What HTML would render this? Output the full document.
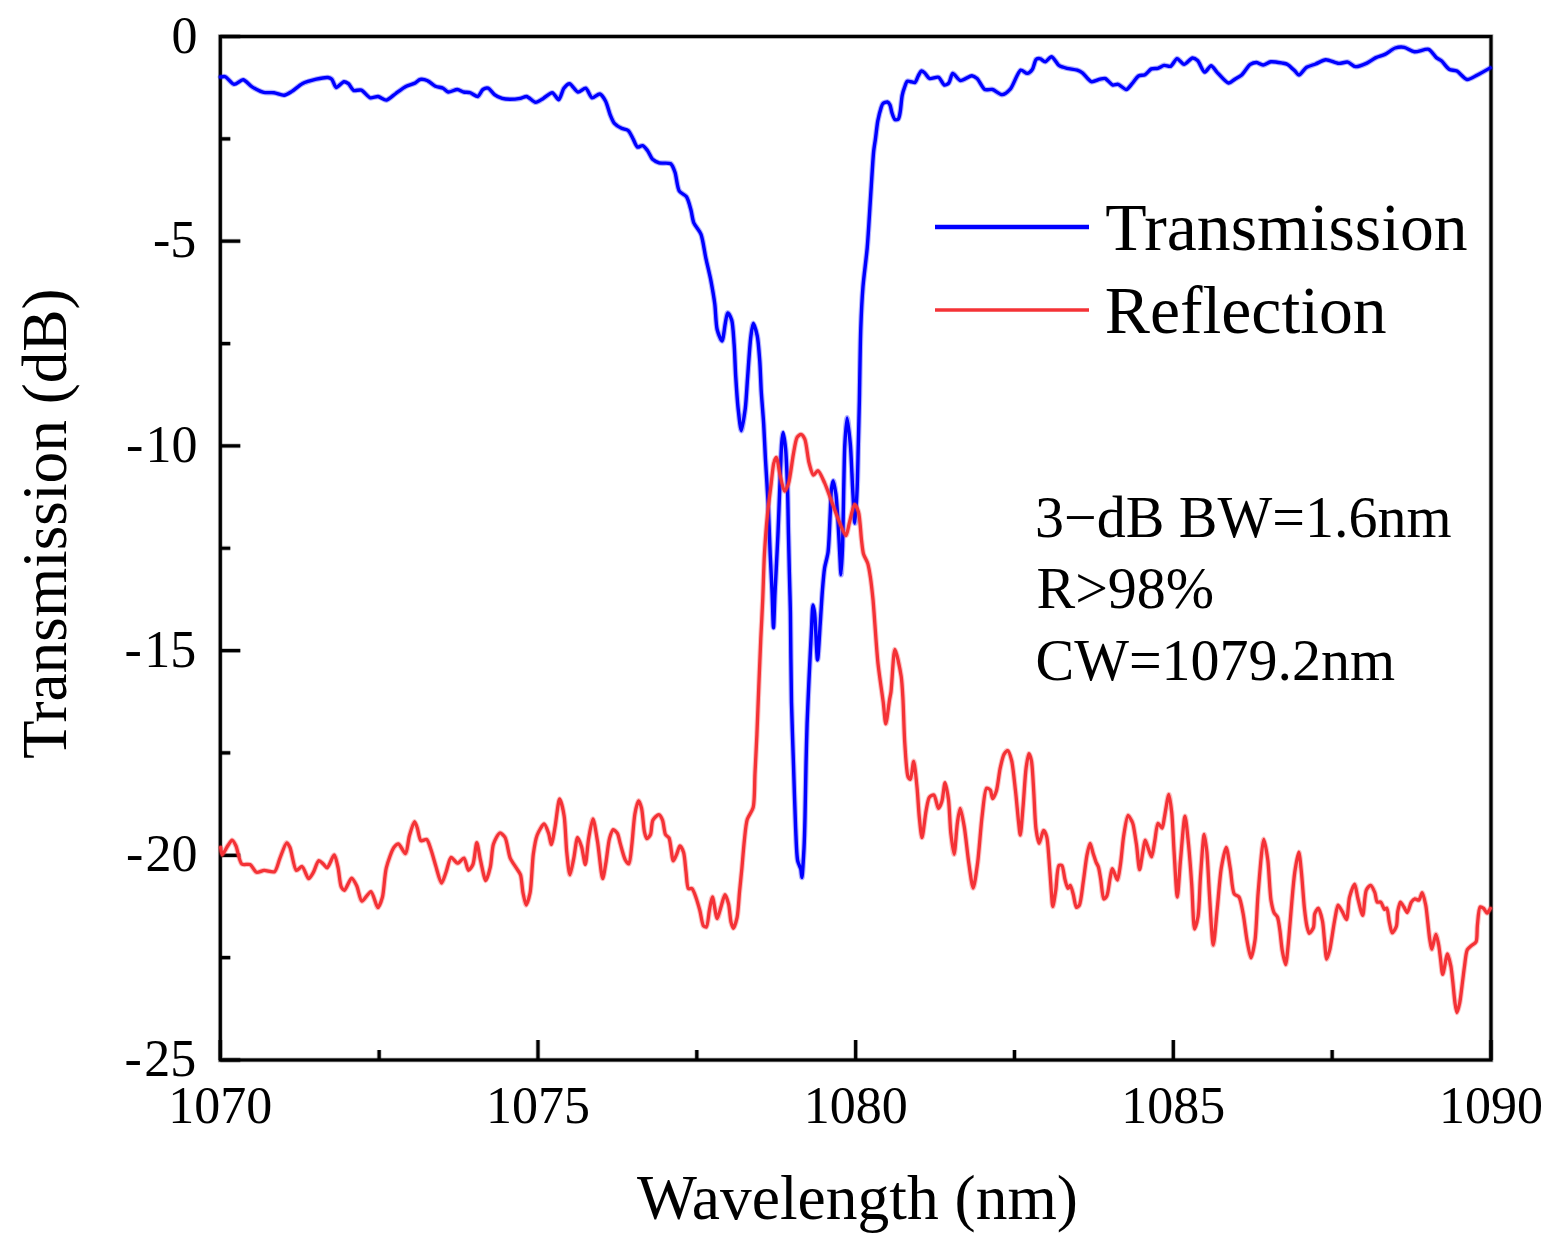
<!DOCTYPE html>
<html><head><meta charset="utf-8"><title>Transmission and Reflection Spectrum</title>
<style>
html,body{margin:0;padding:0;background:#fff;}
body{width:1557px;height:1248px;overflow:hidden;}
svg{display:block;}
text{font-family:'Liberation Serif','Times New Roman',serif;fill:#000;}
</style></head>
<body>
<svg width="1557" height="1248" viewBox="0 0 1557 1248">
<rect width="1557" height="1248" fill="#fff"/>
<g fill="none" stroke="#000" stroke-width="4.8" stroke-opacity="0.25" stroke-linecap="butt">
<rect x="220.30" y="36.50" width="1270.70" height="1023.50" stroke-linejoin="miter"/>
<path d="M220.30 1060.00V1040.00M379.14 1060.00V1050.00M537.98 1060.00V1040.00M696.81 1060.00V1050.00M855.65 1060.00V1040.00M1014.49 1060.00V1050.00M1173.33 1060.00V1040.00M1332.16 1060.00V1050.00M1491.00 1060.00V1040.00M220.30 36.50H240.30M220.30 138.85H230.30M220.30 241.20H240.30M220.30 343.55H230.30M220.30 445.90H240.30M220.30 548.25H230.30M220.30 650.60H240.30M220.30 752.95H230.30M220.30 855.30H240.30M220.30 957.65H230.30M220.30 1060.00H240.30"/>
</g>
<g fill="none" stroke="#000" stroke-width="3.2" stroke-linecap="butt">
<rect x="220.30" y="36.50" width="1270.70" height="1023.50" stroke-linejoin="miter"/>
<path d="M220.30 1060.00V1040.00M379.14 1060.00V1050.00M537.98 1060.00V1040.00M696.81 1060.00V1050.00M855.65 1060.00V1040.00M1014.49 1060.00V1050.00M1173.33 1060.00V1040.00M1332.16 1060.00V1050.00M1491.00 1060.00V1040.00M220.30 36.50H240.30M220.30 138.85H230.30M220.30 241.20H240.30M220.30 343.55H230.30M220.30 445.90H240.30M220.30 548.25H230.30M220.30 650.60H240.30M220.30 752.95H230.30M220.30 855.30H240.30M220.30 957.65H230.30M220.30 1060.00H240.30"/>
</g>
<g fill="none" stroke-linejoin="round" stroke-linecap="round">
<path d="M220.5 77.0C220.5 77.0 223.9 76.2 225.1 76.6C227.1 77.2 231.8 84.0 234.1 84.3C236.3 84.6 240.9 79.6 243.1 79.8C245.4 80.0 249.6 85.4 252.1 86.9C254.7 88.5 260.8 91.7 263.7 92.4C266.3 93.0 271.4 92.4 274.0 92.7C276.6 93.0 281.9 95.5 284.2 95.2C286.3 95.0 289.9 92.6 291.9 91.4C294.4 89.9 299.3 85.2 302.2 83.7C305.3 82.1 312.9 80.0 316.3 79.2C319.3 78.5 325.8 77.2 327.9 77.5C329.2 77.7 330.9 78.4 331.8 79.2C333.1 80.4 334.7 87.2 336.2 87.5C337.7 87.8 342.3 81.9 344.0 81.7C345.2 81.6 347.4 82.9 348.5 83.7C349.9 84.8 351.9 89.6 353.6 90.4C355.2 91.1 359.4 89.4 361.3 90.1C363.6 90.9 368.0 97.2 370.3 97.8C372.2 98.3 376.1 96.3 378.0 96.5C380.1 96.8 384.2 100.3 386.3 100.1C388.7 99.9 393.5 95.0 396.0 93.3C398.5 91.5 403.7 87.5 406.3 86.2C408.5 85.1 413.4 84.0 415.2 83.0C416.6 82.2 418.6 79.8 420.0 79.5C421.6 79.1 425.9 80.0 427.7 80.8C429.7 81.6 433.4 85.3 435.4 86.2C437.3 87.1 441.4 87.4 443.1 88.2C444.6 88.9 446.7 91.7 448.3 92.0C450.2 92.3 455.3 89.4 457.3 89.5C459.1 89.6 462.1 91.6 463.7 92.0C465.3 92.4 468.5 92.2 470.1 92.7C472.0 93.2 476.2 96.9 477.8 96.5C479.4 96.1 481.4 90.5 482.9 89.5C484.1 88.7 486.8 87.8 488.1 88.2C489.8 88.7 492.7 93.3 494.5 94.6C496.2 95.9 500.2 97.8 502.2 98.4C504.1 99.0 507.8 99.3 509.9 99.3C512.3 99.3 517.9 98.8 520.2 98.4C522.0 98.1 524.9 96.3 526.6 96.5C528.7 96.8 533.4 102.2 535.6 102.3C537.6 102.4 541.3 99.5 543.3 98.4C545.5 97.2 550.3 92.4 552.3 92.7C554.2 92.9 557.3 99.9 558.7 99.7C560.3 99.4 562.3 90.3 563.9 88.2C565.1 86.6 568.1 83.6 569.6 83.7C571.5 83.8 575.8 91.6 578.0 92.0C579.9 92.3 584.0 87.8 585.7 88.2C587.6 88.7 590.2 97.3 592.1 97.8C593.8 98.2 598.1 93.6 599.8 94.0C601.5 94.4 604.3 98.8 605.5 101.0C607.0 103.7 608.9 111.6 610.1 114.6C611.1 117.1 612.9 121.6 614.4 123.3C615.8 124.9 619.8 127.4 621.6 128.3C623.2 129.1 626.7 129.4 628.1 130.5C629.8 131.8 632.0 137.0 633.2 139.1C634.3 141.1 636.1 146.5 637.5 147.1C638.6 147.6 641.4 145.3 642.6 145.6C644.0 146.0 646.4 149.2 647.6 150.7C649.0 152.5 651.0 157.7 652.6 159.3C654.0 160.6 657.2 162.3 659.1 162.9C661.5 163.6 668.7 162.4 670.7 163.7C672.5 164.9 674.1 169.7 675.0 172.3C676.3 176.0 677.3 188.0 679.3 191.1C680.7 193.3 685.1 194.8 686.5 196.8C688.2 199.2 690.0 206.5 690.9 209.8C691.8 213.0 692.5 219.7 693.8 222.8C695.1 225.9 699.6 230.7 701.0 234.3C702.9 239.2 704.7 253.0 706.0 258.9C707.2 264.4 709.7 274.6 710.8 280.1C711.9 285.9 714.0 298.0 714.8 304.1C715.6 310.4 715.9 324.7 717.2 329.7C718.1 333.2 721.0 341.1 722.0 341.0C723.2 340.9 724.5 327.1 725.3 323.3C725.9 320.3 726.8 313.0 727.7 312.9C728.5 312.8 730.9 317.7 731.7 320.1C733.0 324.3 733.6 337.7 734.1 344.2C734.7 351.6 735.2 368.2 735.7 376.2C736.2 384.2 737.3 401.0 738.1 408.3C738.8 414.4 740.4 430.7 741.3 430.7C742.2 430.7 744.5 414.4 745.3 408.3C746.2 401.0 747.0 384.7 747.7 376.2C748.4 366.7 749.9 343.4 750.9 336.2C751.4 332.1 752.5 323.3 753.3 323.3C754.1 323.3 756.5 332.4 757.3 336.2C758.3 341.2 759.2 353.8 759.7 360.2C760.3 367.6 760.8 384.2 761.3 392.2C761.8 400.2 763.2 416.1 763.7 424.3C764.2 432.7 764.9 449.2 765.4 458.5C766.0 469.5 767.7 494.5 768.3 506.5C768.9 518.5 769.7 543.3 770.2 554.6C770.7 564.7 771.7 583.6 772.1 593.0C772.5 601.9 773.1 627.7 773.5 627.7C773.9 627.7 774.5 602.8 775.0 593.0C775.6 580.4 777.3 549.2 777.9 535.4C778.5 522.8 779.3 499.1 779.8 487.3C780.3 476.0 781.1 450.2 781.7 443.0C782.0 439.5 782.7 432.5 783.1 432.5C783.6 432.5 785.1 443.8 785.6 448.8C786.4 456.4 787.1 477.1 787.5 487.3C787.9 498.7 788.2 524.1 788.5 535.4C788.7 545.5 789.2 564.2 789.4 573.8C789.6 583.4 790.2 600.7 790.4 612.3C790.7 630.1 791.0 682.0 791.5 702.5C791.9 719.6 793.0 749.4 793.5 765.0C794.0 780.6 795.0 814.3 795.6 827.5C796.1 837.1 796.5 855.3 797.7 860.8C798.3 863.7 800.3 867.1 800.8 869.2C801.3 871.3 801.6 877.5 801.9 877.5C802.4 877.5 803.6 855.7 804.0 848.3C804.4 840.6 804.8 825.8 805.0 817.0C805.3 805.6 805.7 777.3 806.0 765.0C806.3 754.0 806.7 733.8 807.1 723.3C807.5 712.5 808.5 690.6 809.0 679.7C809.5 668.6 810.7 645.3 811.2 635.3C811.7 627.0 812.3 605.0 813.0 605.0C813.3 605.0 814.2 610.1 814.6 612.9C815.5 619.7 816.8 660.0 817.5 660.0C818.2 660.0 819.6 632.8 820.2 624.0C820.8 615.5 821.8 598.0 822.4 590.5C822.9 584.3 823.8 573.1 824.6 568.0C825.3 563.7 827.3 557.2 828.0 552.4C829.1 544.7 829.8 520.6 830.3 512.0C830.6 505.6 830.9 493.9 831.4 489.6C831.7 486.9 832.7 480.7 833.2 480.7C833.8 480.7 835.3 490.1 835.9 494.1C836.7 500.0 837.6 515.7 838.1 523.2C838.6 531.3 839.5 549.8 839.9 556.9C840.2 562.1 840.7 574.8 841.0 574.8C841.4 574.8 842.3 554.2 842.6 545.7C843.0 534.0 843.4 502.8 843.7 489.6C844.0 477.8 844.3 454.6 844.8 444.8C845.2 437.2 846.4 417.9 847.1 417.9C847.8 417.9 849.7 437.2 850.4 444.8C851.2 454.6 852.1 479.2 852.7 489.6C853.2 498.6 854.4 523.2 854.9 523.2C855.5 523.2 856.7 498.6 857.1 489.6C857.6 479.2 858.0 456.0 858.3 444.8C858.6 433.6 859.1 412.5 859.4 400.0C859.7 384.1 860.2 343.5 860.8 328.0C861.2 316.2 862.2 296.6 863.0 286.4C863.8 276.6 866.3 258.1 867.2 248.0C868.2 236.7 869.6 212.0 870.4 200.0C871.2 188.0 872.8 160.0 873.6 152.0C874.0 148.0 874.8 143.3 875.3 140.0C875.9 135.8 877.0 125.2 877.8 120.9C878.5 117.4 880.2 110.5 881.0 108.1C881.5 106.7 882.1 104.4 882.9 103.6C883.7 102.8 886.5 101.8 887.4 102.0C888.2 102.2 889.5 103.9 890.0 104.9C890.7 106.3 891.3 110.7 891.9 112.6C892.5 114.4 894.0 119.1 895.1 119.6C895.8 120.0 897.7 119.6 898.3 119.0C899.3 118.1 899.9 113.6 900.3 111.3C900.9 108.0 901.5 98.6 902.2 95.3C902.7 92.8 904.0 88.8 904.7 86.9C905.3 85.3 906.3 81.7 907.3 81.2C908.1 80.8 910.2 81.6 911.2 81.8C912.2 81.9 914.2 82.8 915.0 82.4C916.1 81.8 917.4 77.5 918.2 76.0C919.0 74.6 920.5 71.1 921.4 70.9C922.1 70.7 923.8 72.1 924.6 72.8C925.8 73.8 927.9 77.9 929.5 78.5C931.3 79.2 936.7 76.5 938.5 77.3C940.4 78.1 942.8 84.6 944.3 85.0C945.4 85.3 947.9 84.0 948.8 83.0C950.2 81.6 951.3 73.7 952.7 73.4C954.2 73.1 958.1 80.1 960.4 80.5C962.9 80.9 969.6 75.6 971.9 75.7C973.5 75.8 975.8 77.4 977.1 78.5C979.0 80.2 982.5 88.3 984.8 89.5C986.5 90.4 990.5 89.0 992.5 89.5C994.8 90.1 999.8 94.7 1002.1 94.6C1004.3 94.5 1008.5 91.0 1010.5 88.8C1013.3 85.7 1018.0 71.1 1020.7 70.2C1022.3 69.7 1025.7 73.5 1027.2 73.4C1028.6 73.3 1031.3 70.9 1032.3 69.5C1033.7 67.7 1034.8 60.4 1036.2 59.3C1037.0 58.6 1039.0 58.4 1040.0 58.6C1041.2 58.8 1043.9 61.9 1045.2 61.8C1046.7 61.7 1050.0 56.5 1051.6 56.7C1053.5 56.9 1057.2 64.3 1059.3 65.7C1061.1 66.9 1064.9 67.8 1067.0 68.3C1069.4 68.9 1075.2 69.5 1077.3 70.2C1078.8 70.7 1081.0 71.8 1082.4 72.8C1084.4 74.3 1089.0 81.1 1091.4 81.7C1093.4 82.2 1098.1 79.6 1100.0 79.2C1101.4 78.9 1103.8 78.1 1105.1 78.5C1106.9 79.0 1110.9 84.5 1112.8 85.0C1114.1 85.4 1116.6 84.0 1118.0 84.3C1119.9 84.7 1124.5 89.7 1126.3 89.5C1128.0 89.3 1130.7 85.3 1132.1 83.7C1133.7 81.9 1136.7 77.1 1138.5 76.0C1140.0 75.1 1143.5 75.5 1145.0 74.7C1146.7 73.8 1149.7 69.7 1151.4 68.9C1152.9 68.2 1156.2 68.7 1157.8 68.3C1159.4 67.9 1162.6 65.6 1164.2 65.4C1165.8 65.2 1169.1 66.9 1170.6 66.3C1172.4 65.6 1175.4 58.8 1177.1 58.6C1178.7 58.5 1182.3 64.4 1184.1 64.4C1186.1 64.4 1190.6 58.2 1192.5 58.0C1193.9 57.9 1196.4 59.5 1197.6 60.6C1199.5 62.3 1202.8 71.9 1204.7 72.1C1206.2 72.3 1209.6 65.7 1211.1 65.7C1212.6 65.7 1215.2 70.3 1216.9 72.1C1219.3 74.5 1225.9 82.7 1228.5 83.0C1230.3 83.2 1233.3 80.2 1234.9 79.2C1236.5 78.2 1239.7 76.7 1241.3 75.3C1243.5 73.4 1248.0 65.9 1250.3 64.4C1251.9 63.4 1255.1 62.4 1256.7 62.5C1258.3 62.6 1261.4 65.0 1263.1 65.0C1264.9 65.0 1268.6 62.1 1270.8 61.8C1273.4 61.4 1280.1 62.7 1282.4 63.1C1283.9 63.4 1286.2 63.7 1287.5 64.4C1289.3 65.4 1293.4 69.6 1295.0 71.1C1296.2 72.2 1297.8 75.0 1298.9 75.0C1300.5 75.0 1304.4 68.7 1306.6 67.3C1308.6 66.0 1313.3 64.9 1315.6 64.0C1318.1 63.0 1323.1 60.0 1325.8 59.8C1328.8 59.6 1335.7 63.2 1338.7 63.4C1341.1 63.6 1345.6 61.7 1347.7 62.1C1349.8 62.5 1353.2 66.3 1355.4 66.6C1357.9 66.9 1364.3 64.3 1366.9 63.1C1369.4 62.0 1373.6 58.7 1375.9 57.6C1378.1 56.6 1382.6 55.5 1384.9 54.4C1387.5 53.2 1392.6 48.8 1395.2 48.0C1397.4 47.3 1401.9 46.9 1404.2 47.3C1406.7 47.7 1411.7 51.5 1414.5 51.8C1417.7 52.2 1425.8 48.4 1428.6 49.3C1431.1 50.1 1434.5 56.1 1436.3 57.6C1437.6 58.7 1440.1 59.7 1441.4 60.8C1443.2 62.3 1447.0 67.9 1449.1 69.2C1450.9 70.3 1454.9 70.1 1456.9 71.1C1459.4 72.4 1464.4 79.1 1467.1 79.5C1469.6 79.8 1474.7 76.3 1477.4 75.0C1480.5 73.5 1490.2 67.9 1490.2 67.9" stroke="#0000ff" stroke-width="5.6" stroke-opacity="0.3"/>
<path d="M220.5 77.0C220.5 77.0 223.9 76.2 225.1 76.6C227.1 77.2 231.8 84.0 234.1 84.3C236.3 84.6 240.9 79.6 243.1 79.8C245.4 80.0 249.6 85.4 252.1 86.9C254.7 88.5 260.8 91.7 263.7 92.4C266.3 93.0 271.4 92.4 274.0 92.7C276.6 93.0 281.9 95.5 284.2 95.2C286.3 95.0 289.9 92.6 291.9 91.4C294.4 89.9 299.3 85.2 302.2 83.7C305.3 82.1 312.9 80.0 316.3 79.2C319.3 78.5 325.8 77.2 327.9 77.5C329.2 77.7 330.9 78.4 331.8 79.2C333.1 80.4 334.7 87.2 336.2 87.5C337.7 87.8 342.3 81.9 344.0 81.7C345.2 81.6 347.4 82.9 348.5 83.7C349.9 84.8 351.9 89.6 353.6 90.4C355.2 91.1 359.4 89.4 361.3 90.1C363.6 90.9 368.0 97.2 370.3 97.8C372.2 98.3 376.1 96.3 378.0 96.5C380.1 96.8 384.2 100.3 386.3 100.1C388.7 99.9 393.5 95.0 396.0 93.3C398.5 91.5 403.7 87.5 406.3 86.2C408.5 85.1 413.4 84.0 415.2 83.0C416.6 82.2 418.6 79.8 420.0 79.5C421.6 79.1 425.9 80.0 427.7 80.8C429.7 81.6 433.4 85.3 435.4 86.2C437.3 87.1 441.4 87.4 443.1 88.2C444.6 88.9 446.7 91.7 448.3 92.0C450.2 92.3 455.3 89.4 457.3 89.5C459.1 89.6 462.1 91.6 463.7 92.0C465.3 92.4 468.5 92.2 470.1 92.7C472.0 93.2 476.2 96.9 477.8 96.5C479.4 96.1 481.4 90.5 482.9 89.5C484.1 88.7 486.8 87.8 488.1 88.2C489.8 88.7 492.7 93.3 494.5 94.6C496.2 95.9 500.2 97.8 502.2 98.4C504.1 99.0 507.8 99.3 509.9 99.3C512.3 99.3 517.9 98.8 520.2 98.4C522.0 98.1 524.9 96.3 526.6 96.5C528.7 96.8 533.4 102.2 535.6 102.3C537.6 102.4 541.3 99.5 543.3 98.4C545.5 97.2 550.3 92.4 552.3 92.7C554.2 92.9 557.3 99.9 558.7 99.7C560.3 99.4 562.3 90.3 563.9 88.2C565.1 86.6 568.1 83.6 569.6 83.7C571.5 83.8 575.8 91.6 578.0 92.0C579.9 92.3 584.0 87.8 585.7 88.2C587.6 88.7 590.2 97.3 592.1 97.8C593.8 98.2 598.1 93.6 599.8 94.0C601.5 94.4 604.3 98.8 605.5 101.0C607.0 103.7 608.9 111.6 610.1 114.6C611.1 117.1 612.9 121.6 614.4 123.3C615.8 124.9 619.8 127.4 621.6 128.3C623.2 129.1 626.7 129.4 628.1 130.5C629.8 131.8 632.0 137.0 633.2 139.1C634.3 141.1 636.1 146.5 637.5 147.1C638.6 147.6 641.4 145.3 642.6 145.6C644.0 146.0 646.4 149.2 647.6 150.7C649.0 152.5 651.0 157.7 652.6 159.3C654.0 160.6 657.2 162.3 659.1 162.9C661.5 163.6 668.7 162.4 670.7 163.7C672.5 164.9 674.1 169.7 675.0 172.3C676.3 176.0 677.3 188.0 679.3 191.1C680.7 193.3 685.1 194.8 686.5 196.8C688.2 199.2 690.0 206.5 690.9 209.8C691.8 213.0 692.5 219.7 693.8 222.8C695.1 225.9 699.6 230.7 701.0 234.3C702.9 239.2 704.7 253.0 706.0 258.9C707.2 264.4 709.7 274.6 710.8 280.1C711.9 285.9 714.0 298.0 714.8 304.1C715.6 310.4 715.9 324.7 717.2 329.7C718.1 333.2 721.0 341.1 722.0 341.0C723.2 340.9 724.5 327.1 725.3 323.3C725.9 320.3 726.8 313.0 727.7 312.9C728.5 312.8 730.9 317.7 731.7 320.1C733.0 324.3 733.6 337.7 734.1 344.2C734.7 351.6 735.2 368.2 735.7 376.2C736.2 384.2 737.3 401.0 738.1 408.3C738.8 414.4 740.4 430.7 741.3 430.7C742.2 430.7 744.5 414.4 745.3 408.3C746.2 401.0 747.0 384.7 747.7 376.2C748.4 366.7 749.9 343.4 750.9 336.2C751.4 332.1 752.5 323.3 753.3 323.3C754.1 323.3 756.5 332.4 757.3 336.2C758.3 341.2 759.2 353.8 759.7 360.2C760.3 367.6 760.8 384.2 761.3 392.2C761.8 400.2 763.2 416.1 763.7 424.3C764.2 432.7 764.9 449.2 765.4 458.5C766.0 469.5 767.7 494.5 768.3 506.5C768.9 518.5 769.7 543.3 770.2 554.6C770.7 564.7 771.7 583.6 772.1 593.0C772.5 601.9 773.1 627.7 773.5 627.7C773.9 627.7 774.5 602.8 775.0 593.0C775.6 580.4 777.3 549.2 777.9 535.4C778.5 522.8 779.3 499.1 779.8 487.3C780.3 476.0 781.1 450.2 781.7 443.0C782.0 439.5 782.7 432.5 783.1 432.5C783.6 432.5 785.1 443.8 785.6 448.8C786.4 456.4 787.1 477.1 787.5 487.3C787.9 498.7 788.2 524.1 788.5 535.4C788.7 545.5 789.2 564.2 789.4 573.8C789.6 583.4 790.2 600.7 790.4 612.3C790.7 630.1 791.0 682.0 791.5 702.5C791.9 719.6 793.0 749.4 793.5 765.0C794.0 780.6 795.0 814.3 795.6 827.5C796.1 837.1 796.5 855.3 797.7 860.8C798.3 863.7 800.3 867.1 800.8 869.2C801.3 871.3 801.6 877.5 801.9 877.5C802.4 877.5 803.6 855.7 804.0 848.3C804.4 840.6 804.8 825.8 805.0 817.0C805.3 805.6 805.7 777.3 806.0 765.0C806.3 754.0 806.7 733.8 807.1 723.3C807.5 712.5 808.5 690.6 809.0 679.7C809.5 668.6 810.7 645.3 811.2 635.3C811.7 627.0 812.3 605.0 813.0 605.0C813.3 605.0 814.2 610.1 814.6 612.9C815.5 619.7 816.8 660.0 817.5 660.0C818.2 660.0 819.6 632.8 820.2 624.0C820.8 615.5 821.8 598.0 822.4 590.5C822.9 584.3 823.8 573.1 824.6 568.0C825.3 563.7 827.3 557.2 828.0 552.4C829.1 544.7 829.8 520.6 830.3 512.0C830.6 505.6 830.9 493.9 831.4 489.6C831.7 486.9 832.7 480.7 833.2 480.7C833.8 480.7 835.3 490.1 835.9 494.1C836.7 500.0 837.6 515.7 838.1 523.2C838.6 531.3 839.5 549.8 839.9 556.9C840.2 562.1 840.7 574.8 841.0 574.8C841.4 574.8 842.3 554.2 842.6 545.7C843.0 534.0 843.4 502.8 843.7 489.6C844.0 477.8 844.3 454.6 844.8 444.8C845.2 437.2 846.4 417.9 847.1 417.9C847.8 417.9 849.7 437.2 850.4 444.8C851.2 454.6 852.1 479.2 852.7 489.6C853.2 498.6 854.4 523.2 854.9 523.2C855.5 523.2 856.7 498.6 857.1 489.6C857.6 479.2 858.0 456.0 858.3 444.8C858.6 433.6 859.1 412.5 859.4 400.0C859.7 384.1 860.2 343.5 860.8 328.0C861.2 316.2 862.2 296.6 863.0 286.4C863.8 276.6 866.3 258.1 867.2 248.0C868.2 236.7 869.6 212.0 870.4 200.0C871.2 188.0 872.8 160.0 873.6 152.0C874.0 148.0 874.8 143.3 875.3 140.0C875.9 135.8 877.0 125.2 877.8 120.9C878.5 117.4 880.2 110.5 881.0 108.1C881.5 106.7 882.1 104.4 882.9 103.6C883.7 102.8 886.5 101.8 887.4 102.0C888.2 102.2 889.5 103.9 890.0 104.9C890.7 106.3 891.3 110.7 891.9 112.6C892.5 114.4 894.0 119.1 895.1 119.6C895.8 120.0 897.7 119.6 898.3 119.0C899.3 118.1 899.9 113.6 900.3 111.3C900.9 108.0 901.5 98.6 902.2 95.3C902.7 92.8 904.0 88.8 904.7 86.9C905.3 85.3 906.3 81.7 907.3 81.2C908.1 80.8 910.2 81.6 911.2 81.8C912.2 81.9 914.2 82.8 915.0 82.4C916.1 81.8 917.4 77.5 918.2 76.0C919.0 74.6 920.5 71.1 921.4 70.9C922.1 70.7 923.8 72.1 924.6 72.8C925.8 73.8 927.9 77.9 929.5 78.5C931.3 79.2 936.7 76.5 938.5 77.3C940.4 78.1 942.8 84.6 944.3 85.0C945.4 85.3 947.9 84.0 948.8 83.0C950.2 81.6 951.3 73.7 952.7 73.4C954.2 73.1 958.1 80.1 960.4 80.5C962.9 80.9 969.6 75.6 971.9 75.7C973.5 75.8 975.8 77.4 977.1 78.5C979.0 80.2 982.5 88.3 984.8 89.5C986.5 90.4 990.5 89.0 992.5 89.5C994.8 90.1 999.8 94.7 1002.1 94.6C1004.3 94.5 1008.5 91.0 1010.5 88.8C1013.3 85.7 1018.0 71.1 1020.7 70.2C1022.3 69.7 1025.7 73.5 1027.2 73.4C1028.6 73.3 1031.3 70.9 1032.3 69.5C1033.7 67.7 1034.8 60.4 1036.2 59.3C1037.0 58.6 1039.0 58.4 1040.0 58.6C1041.2 58.8 1043.9 61.9 1045.2 61.8C1046.7 61.7 1050.0 56.5 1051.6 56.7C1053.5 56.9 1057.2 64.3 1059.3 65.7C1061.1 66.9 1064.9 67.8 1067.0 68.3C1069.4 68.9 1075.2 69.5 1077.3 70.2C1078.8 70.7 1081.0 71.8 1082.4 72.8C1084.4 74.3 1089.0 81.1 1091.4 81.7C1093.4 82.2 1098.1 79.6 1100.0 79.2C1101.4 78.9 1103.8 78.1 1105.1 78.5C1106.9 79.0 1110.9 84.5 1112.8 85.0C1114.1 85.4 1116.6 84.0 1118.0 84.3C1119.9 84.7 1124.5 89.7 1126.3 89.5C1128.0 89.3 1130.7 85.3 1132.1 83.7C1133.7 81.9 1136.7 77.1 1138.5 76.0C1140.0 75.1 1143.5 75.5 1145.0 74.7C1146.7 73.8 1149.7 69.7 1151.4 68.9C1152.9 68.2 1156.2 68.7 1157.8 68.3C1159.4 67.9 1162.6 65.6 1164.2 65.4C1165.8 65.2 1169.1 66.9 1170.6 66.3C1172.4 65.6 1175.4 58.8 1177.1 58.6C1178.7 58.5 1182.3 64.4 1184.1 64.4C1186.1 64.4 1190.6 58.2 1192.5 58.0C1193.9 57.9 1196.4 59.5 1197.6 60.6C1199.5 62.3 1202.8 71.9 1204.7 72.1C1206.2 72.3 1209.6 65.7 1211.1 65.7C1212.6 65.7 1215.2 70.3 1216.9 72.1C1219.3 74.5 1225.9 82.7 1228.5 83.0C1230.3 83.2 1233.3 80.2 1234.9 79.2C1236.5 78.2 1239.7 76.7 1241.3 75.3C1243.5 73.4 1248.0 65.9 1250.3 64.4C1251.9 63.4 1255.1 62.4 1256.7 62.5C1258.3 62.6 1261.4 65.0 1263.1 65.0C1264.9 65.0 1268.6 62.1 1270.8 61.8C1273.4 61.4 1280.1 62.7 1282.4 63.1C1283.9 63.4 1286.2 63.7 1287.5 64.4C1289.3 65.4 1293.4 69.6 1295.0 71.1C1296.2 72.2 1297.8 75.0 1298.9 75.0C1300.5 75.0 1304.4 68.7 1306.6 67.3C1308.6 66.0 1313.3 64.9 1315.6 64.0C1318.1 63.0 1323.1 60.0 1325.8 59.8C1328.8 59.6 1335.7 63.2 1338.7 63.4C1341.1 63.6 1345.6 61.7 1347.7 62.1C1349.8 62.5 1353.2 66.3 1355.4 66.6C1357.9 66.9 1364.3 64.3 1366.9 63.1C1369.4 62.0 1373.6 58.7 1375.9 57.6C1378.1 56.6 1382.6 55.5 1384.9 54.4C1387.5 53.2 1392.6 48.8 1395.2 48.0C1397.4 47.3 1401.9 46.9 1404.2 47.3C1406.7 47.7 1411.7 51.5 1414.5 51.8C1417.7 52.2 1425.8 48.4 1428.6 49.3C1431.1 50.1 1434.5 56.1 1436.3 57.6C1437.6 58.7 1440.1 59.7 1441.4 60.8C1443.2 62.3 1447.0 67.9 1449.1 69.2C1450.9 70.3 1454.9 70.1 1456.9 71.1C1459.4 72.4 1464.4 79.1 1467.1 79.5C1469.6 79.8 1474.7 76.3 1477.4 75.0C1480.5 73.5 1490.2 67.9 1490.2 67.9" stroke="#0000ff" stroke-width="3.4"/>
<path d="M220.6 847.5C220.6 847.5 221.5 854.9 222.2 855.0C223.1 855.1 226.3 848.0 227.6 846.0C228.7 844.4 231.0 840.2 232.1 840.2C233.1 840.2 235.1 844.1 236.0 846.0C237.5 849.2 239.3 862.1 241.8 864.0C243.4 865.3 248.3 863.7 250.1 864.6C252.1 865.6 254.6 871.7 256.5 872.3C258.2 872.9 262.1 870.5 264.2 870.4C266.6 870.3 272.6 872.8 274.5 871.7C276.7 870.4 278.3 862.2 279.7 858.8C281.3 855.0 285.2 843.0 286.7 842.8C287.6 842.7 289.1 845.6 289.9 847.3C291.6 850.8 294.1 869.6 296.4 870.4C297.6 870.8 300.8 866.2 302.1 866.5C304.0 867.0 307.0 878.6 308.6 878.7C309.7 878.8 312.0 874.7 313.1 872.9C314.6 870.5 317.2 861.1 318.8 860.7C319.8 860.4 322.2 863.1 323.3 864.0C324.3 864.9 326.2 868.0 327.2 867.8C328.9 867.6 332.8 854.9 334.2 855.0C335.5 855.1 337.3 864.2 338.1 867.8C339.1 872.1 339.9 884.4 341.3 887.1C342.0 888.4 343.6 890.4 344.5 890.3C346.0 890.1 349.9 878.1 351.6 878.1C352.9 878.1 355.6 883.5 356.7 885.8C358.2 888.9 360.0 900.8 361.9 901.2C363.6 901.6 369.0 891.3 370.9 891.6C373.1 892.0 376.3 907.6 377.9 907.6C379.1 907.6 381.5 900.6 382.4 897.3C383.9 891.9 384.6 874.4 386.3 867.8C387.7 862.1 391.9 850.1 394.0 847.3C395.1 845.9 397.3 843.8 398.5 844.0C400.2 844.3 404.2 854.0 405.5 853.7C407.1 853.4 408.2 839.9 409.4 835.7C410.5 831.9 413.4 821.6 414.5 821.6C415.2 821.6 416.5 825.5 417.1 827.3C418.1 829.9 419.2 839.7 420.9 840.7C422.0 841.4 425.5 838.9 426.7 839.5C428.4 840.4 430.1 847.4 431.2 850.4C432.4 853.9 434.5 861.9 435.7 865.8C437.0 870.0 440.1 883.1 441.5 883.1C442.6 883.1 444.9 875.2 446.0 872.2C447.3 868.8 449.3 857.9 451.1 857.4C452.4 857.1 455.9 863.1 457.5 863.2C459.1 863.3 462.7 857.7 464.0 858.1C465.6 858.6 467.1 870.1 468.4 870.3C469.4 870.5 472.0 866.6 472.9 864.5C474.5 860.9 475.8 842.7 476.8 842.7C477.7 842.7 479.5 856.1 480.6 860.7C481.7 865.6 484.5 880.6 485.8 880.6C486.9 880.6 489.4 871.0 490.3 867.1C491.5 862.1 491.9 848.6 493.5 844.0C494.7 840.6 498.2 833.3 499.9 833.0C501.1 832.8 504.0 835.7 505.1 837.5C507.0 840.6 508.4 853.9 510.2 858.1C511.5 861.2 515.2 866.1 516.6 868.4C517.7 870.2 519.7 872.7 520.5 874.8C521.7 878.1 522.2 888.8 523.0 892.8C523.7 896.2 525.3 905.0 526.2 905.0C527.1 905.0 529.3 896.8 530.1 892.8C531.5 885.9 532.2 862.2 533.3 854.2C534.1 848.5 535.6 839.0 537.2 835.0C538.5 831.7 542.7 823.9 544.2 824.0C545.5 824.1 547.8 831.2 548.7 833.7C549.6 836.3 550.6 844.6 551.3 844.6C552.2 844.6 554.3 831.1 555.2 826.0C556.3 819.9 558.3 799.1 559.6 799.0C560.6 798.9 563.3 810.7 564.1 815.7C565.3 822.9 565.9 843.7 566.7 851.7C567.4 858.1 568.9 874.8 569.9 874.8C570.7 874.8 572.9 862.5 573.8 858.1C574.8 853.2 576.4 837.6 577.6 837.5C578.4 837.4 580.6 843.8 581.5 846.5C582.7 850.2 584.5 864.5 585.3 864.5C586.3 864.5 587.6 844.8 588.6 838.8C589.5 833.5 591.9 818.9 593.0 818.9C594.1 818.9 596.4 835.1 597.5 841.4C598.9 849.5 601.4 878.6 602.7 878.6C603.5 878.6 605.2 866.6 606.0 862.1C606.9 856.7 608.3 842.5 609.6 838.1C610.4 835.4 612.0 830.0 613.2 829.7C614.1 829.5 616.6 832.0 617.4 833.3C618.6 835.2 619.5 841.2 620.4 844.1C621.4 847.6 623.8 857.1 625.2 859.7C626.0 861.2 628.2 864.1 628.9 863.9C630.3 863.5 631.2 849.6 631.9 844.1C632.7 837.4 633.8 820.0 634.9 814.0C635.6 810.0 637.5 800.9 638.5 800.8C639.2 800.8 640.9 805.6 641.5 808.0C642.6 812.2 643.5 828.0 644.5 832.1C645.0 834.3 646.1 838.6 646.9 838.7C647.6 838.8 649.8 836.0 650.5 834.5C651.6 832.1 651.5 822.7 652.9 820.1C654.0 818.2 657.7 814.4 658.9 814.6C660.0 814.7 661.8 818.3 662.5 820.1C663.6 822.8 664.3 832.2 665.5 834.5C666.2 835.9 668.3 836.6 669.1 838.1C670.7 841.2 671.9 860.7 673.3 860.9C674.1 861.0 676.1 855.6 676.9 853.7C677.7 851.8 679.0 846.0 679.9 845.9C680.7 845.8 682.9 850.3 683.6 852.5C684.7 856.0 685.4 867.1 686.0 871.8C686.6 876.1 686.9 887.3 688.4 888.6C689.1 889.2 691.2 888.1 692.0 888.6C693.4 889.5 695.3 895.6 696.2 898.2C697.2 901.0 698.9 907.0 699.8 910.2C700.8 913.8 702.0 924.1 703.4 925.8C704.0 926.6 705.8 927.3 706.4 927.0C707.8 926.2 708.6 914.1 709.4 910.2C710.1 906.7 711.6 897.0 712.4 897.0C713.5 897.0 715.9 918.5 717.2 918.6C718.2 918.6 720.4 908.5 721.4 905.4C722.3 902.6 724.1 894.6 725.0 894.6C725.9 894.6 727.9 901.4 728.6 904.2C729.5 908.0 730.2 918.9 731.0 922.2C731.5 924.2 732.8 928.3 733.4 928.3C734.3 928.3 736.4 920.7 737.1 917.4C738.2 912.4 738.9 898.4 739.5 892.2C740.1 886.1 741.3 874.4 741.9 868.1C742.5 861.3 743.7 846.5 744.4 840.0C745.0 834.4 745.9 823.5 747.3 819.2C748.4 815.8 752.1 811.5 753.1 807.7C754.8 801.5 754.5 782.0 755.0 773.1C755.5 763.7 756.4 744.8 756.9 734.6C757.4 723.2 758.3 698.5 758.8 686.5C759.3 674.5 760.3 649.8 760.8 638.5C761.3 628.3 762.3 610.0 762.7 600.0C763.2 589.1 763.8 565.5 764.4 554.6C765.0 544.6 766.4 525.4 767.3 516.2C768.1 507.7 770.3 490.8 771.2 483.5C771.9 477.6 772.9 465.7 774.0 462.3C774.5 460.6 775.9 457.4 776.5 457.5C777.5 457.6 778.8 469.7 779.8 473.8C780.8 478.1 783.3 491.1 784.6 491.2C785.5 491.3 787.6 486.1 788.5 483.5C790.1 478.7 792.1 460.9 793.3 454.6C794.2 449.7 795.6 439.7 797.1 437.3C797.9 436.0 800.1 434.3 801.0 434.4C802.0 434.5 804.0 437.4 804.8 439.2C806.4 442.7 807.7 457.8 809.0 462.7C810.0 466.3 812.0 474.8 813.4 475.1C814.4 475.3 816.8 470.4 817.9 470.6C819.6 470.8 823.0 479.5 824.6 482.9C826.4 486.9 829.7 496.3 831.4 500.8C833.1 505.3 836.3 514.4 838.1 518.8C839.9 523.1 844.5 535.7 845.9 535.6C847.1 535.5 848.4 526.6 849.3 523.2C850.5 519.0 853.1 504.7 854.5 504.5C855.4 504.4 857.7 509.4 858.5 512.0C859.9 516.7 860.8 534.2 861.5 540.0C862.0 544.1 862.6 550.9 863.5 554.0C864.3 556.7 867.0 560.9 867.8 563.6C868.8 566.8 869.9 574.0 870.5 578.0C871.2 582.8 872.3 592.7 873.0 599.5C874.1 611.2 876.5 649.6 878.0 663.6C879.2 674.4 882.1 693.7 883.2 702.0C884.0 708.2 885.0 723.8 885.8 723.8C886.6 723.8 888.8 704.4 889.5 700.0C889.9 697.4 890.6 694.7 891.0 691.8C891.9 685.3 893.4 649.6 894.9 649.5C896.1 649.4 900.2 669.9 901.2 676.4C902.1 682.5 902.6 693.2 903.0 700.0C903.5 709.2 904.1 733.3 904.8 743.4C905.4 752.3 906.5 773.6 908.1 777.0C908.6 778.1 909.9 779.5 910.4 779.3C911.6 778.9 912.9 761.3 913.7 761.3C914.6 761.3 916.4 781.3 917.1 788.2C917.8 795.3 918.6 810.8 919.3 817.4C919.9 822.9 921.2 837.6 922.0 837.6C922.9 837.6 925.0 816.3 926.1 810.7C926.9 806.7 927.9 799.0 929.4 797.2C930.3 796.1 932.9 794.6 933.9 795.0C935.5 795.7 937.3 808.3 938.4 808.4C939.2 808.5 941.1 803.9 941.8 801.7C943.0 798.2 944.2 782.6 945.1 782.6C945.9 782.6 947.8 794.5 948.5 799.5C949.4 806.4 950.0 825.7 950.8 833.1C951.5 839.0 953.3 854.4 954.1 854.4C955.0 854.4 956.5 828.3 957.5 821.9C958.1 817.8 959.4 808.4 960.2 808.4C961.1 808.4 963.3 821.1 964.2 826.4C965.5 833.8 967.5 854.1 968.7 862.3C969.7 869.3 972.1 888.1 973.2 888.1C974.3 888.1 976.7 869.7 977.7 862.3C979.0 852.3 980.9 825.3 982.2 815.2C983.2 807.5 984.6 789.2 986.6 788.2C987.4 787.8 989.6 789.2 990.3 790.1C991.3 791.4 991.8 798.4 992.6 798.5C993.4 798.6 995.6 793.4 996.4 790.9C997.7 786.8 999.1 773.1 1000.2 768.1C1001.1 764.2 1002.7 756.7 1004.0 754.4C1004.8 753.0 1007.0 750.4 1007.8 750.6C1009.0 750.8 1010.8 757.3 1011.6 760.5C1013.0 766.0 1014.6 783.3 1015.5 790.9C1016.4 798.5 1017.8 815.3 1018.5 821.4C1019.0 825.5 1019.8 835.1 1020.3 835.1C1021.0 835.1 1022.4 813.8 1023.1 806.1C1023.9 797.2 1025.1 775.3 1026.1 768.1C1026.7 763.6 1028.1 753.7 1028.9 753.6C1029.5 753.6 1030.9 758.1 1031.4 760.5C1032.4 765.4 1033.2 782.9 1033.7 790.9C1034.3 799.9 1035.0 821.8 1036.0 829.0C1036.6 833.5 1038.1 843.3 1039.1 843.4C1040.0 843.5 1042.5 830.6 1043.6 830.5C1044.4 830.4 1046.1 834.5 1046.7 836.6C1047.8 840.4 1048.5 853.3 1049.0 859.4C1049.6 866.5 1050.7 883.4 1051.2 889.9C1051.6 894.7 1052.2 906.6 1052.8 906.6C1053.4 906.6 1055.1 894.5 1055.8 889.9C1056.6 884.4 1057.1 867.1 1058.9 865.5C1059.5 864.9 1061.3 865.0 1061.9 865.5C1063.2 866.6 1064.1 876.1 1064.9 879.2C1065.6 881.7 1067.1 888.3 1068.0 888.4C1068.5 888.5 1069.8 885.2 1070.3 885.3C1071.1 885.4 1072.6 892.0 1073.3 894.5C1074.1 897.4 1075.2 907.0 1076.4 907.4C1077.0 907.6 1078.8 906.2 1079.4 905.1C1081.0 902.4 1082.3 888.3 1083.2 882.3C1084.2 875.8 1085.9 860.3 1087.0 854.9C1087.7 851.4 1089.3 843.4 1090.1 843.4C1090.8 843.4 1092.3 850.9 1093.1 853.3C1093.9 855.6 1095.4 860.6 1096.2 862.5C1096.8 863.8 1097.9 865.6 1098.4 867.0C1099.2 869.3 1100.1 875.8 1100.7 879.2C1101.5 883.5 1102.4 898.6 1103.8 899.0C1104.4 899.2 1106.2 897.2 1106.8 896.0C1108.1 893.6 1109.2 882.9 1109.9 879.2C1110.5 876.2 1111.5 868.7 1112.2 868.6C1112.7 868.5 1113.8 871.8 1114.4 873.1C1115.1 874.6 1116.8 880.1 1117.5 880.0C1118.5 879.9 1119.8 868.5 1120.5 864.0C1121.4 858.1 1122.6 843.0 1123.6 836.6C1124.5 830.9 1126.6 815.6 1128.1 815.3C1129.0 815.1 1131.3 820.1 1132.0 821.4C1132.5 822.4 1132.9 823.7 1133.2 824.9C1133.9 827.8 1135.6 838.9 1136.4 844.1C1137.3 850.0 1138.7 869.7 1139.6 869.7C1140.3 869.7 1142.0 856.1 1142.8 852.1C1143.4 848.8 1144.4 840.2 1145.2 840.1C1145.9 840.0 1147.6 846.8 1148.4 848.9C1149.2 851.0 1150.9 857.0 1151.6 856.9C1152.6 856.8 1154.0 845.0 1154.8 840.9C1155.6 836.6 1156.6 823.7 1158.0 823.3C1158.8 823.1 1161.3 828.3 1162.1 828.1C1163.1 827.8 1163.8 820.2 1164.5 816.9C1165.4 812.3 1167.9 794.4 1168.8 794.4C1169.6 794.4 1171.1 806.8 1171.7 812.1C1172.6 820.1 1173.4 841.8 1174.1 852.1C1174.8 863.0 1176.5 897.0 1177.3 897.0C1178.1 897.0 1179.6 869.7 1180.5 860.1C1181.5 849.6 1183.9 816.1 1185.0 816.1C1185.9 816.1 1187.7 836.5 1188.5 844.1C1189.4 853.2 1191.0 873.9 1191.7 884.2C1192.5 895.1 1193.3 928.9 1194.6 929.0C1195.3 929.1 1197.4 920.3 1198.1 916.2C1199.3 909.0 1199.7 886.3 1200.5 876.2C1201.3 865.9 1203.2 834.5 1204.2 834.5C1204.8 834.5 1206.3 846.8 1206.9 852.1C1207.7 860.1 1208.6 881.5 1209.3 892.2C1210.1 904.5 1212.2 945.1 1213.3 945.1C1214.2 945.1 1216.3 917.6 1217.3 908.2C1218.3 898.4 1219.9 876.5 1221.3 868.1C1222.3 862.0 1225.1 847.3 1226.2 847.3C1227.3 847.3 1229.2 862.6 1230.2 868.1C1231.3 874.2 1232.1 890.6 1234.2 893.8C1235.2 895.3 1238.0 895.6 1239.0 897.0C1240.6 899.3 1242.1 908.4 1243.0 913.0C1244.2 918.9 1245.9 934.2 1247.0 940.3C1247.9 945.2 1250.0 957.9 1251.0 957.9C1252.0 957.9 1254.2 945.8 1255.0 940.3C1256.3 931.3 1257.1 904.5 1258.2 892.2C1259.3 879.3 1262.3 839.4 1263.8 839.3C1264.8 839.3 1267.0 854.0 1267.8 860.1C1268.9 868.5 1269.8 893.0 1271.0 900.2C1271.7 904.3 1273.1 910.8 1274.2 913.0C1274.9 914.4 1276.8 915.6 1277.4 917.0C1278.4 919.2 1279.3 926.2 1279.8 929.8C1280.5 934.3 1281.4 945.6 1282.2 950.2C1282.9 954.1 1284.9 964.6 1285.6 964.6C1286.6 964.5 1288.1 945.3 1288.8 938.2C1289.6 929.9 1291.0 910.7 1291.8 902.1C1292.5 894.3 1293.8 878.8 1294.8 872.1C1295.6 866.6 1298.0 852.2 1298.8 852.2C1299.6 852.2 1300.8 866.4 1301.4 872.1C1302.2 879.8 1303.6 900.6 1304.4 908.1C1305.0 913.4 1306.1 922.7 1306.9 926.2C1307.4 928.4 1308.5 933.3 1309.3 933.4C1310.1 933.5 1312.8 929.3 1313.5 927.4C1314.4 924.8 1313.9 916.7 1314.7 914.1C1315.3 912.2 1317.5 908.0 1318.3 908.1C1319.5 908.2 1321.8 917.8 1322.5 921.3C1323.3 925.2 1323.8 933.7 1324.3 938.2C1324.8 943.2 1325.8 959.1 1326.7 959.2C1327.3 959.3 1329.0 952.9 1329.7 950.2C1330.6 946.5 1332.0 936.5 1332.7 932.2C1333.3 928.4 1334.4 921.2 1335.1 917.7C1335.8 914.4 1337.0 905.3 1338.1 905.1C1338.9 905.0 1341.3 910.0 1342.3 911.7C1343.4 913.5 1345.7 919.7 1346.5 919.5C1347.8 919.3 1348.3 902.1 1349.5 897.3C1350.5 893.5 1353.6 884.0 1354.6 884.1C1355.7 884.2 1356.9 894.8 1357.9 898.5C1358.9 902.6 1361.7 915.4 1362.7 915.3C1363.9 915.2 1364.6 893.8 1366.3 890.1C1367.2 888.2 1369.6 885.2 1370.6 885.3C1371.7 885.4 1374.0 890.5 1374.8 892.5C1375.7 894.7 1376.0 901.2 1377.2 902.1C1377.9 902.6 1380.0 901.6 1380.8 902.1C1382.0 902.8 1383.4 909.0 1384.4 909.3C1385.0 909.5 1386.3 907.9 1386.8 908.1C1387.9 908.7 1388.5 918.1 1389.2 921.3C1389.9 924.3 1391.1 932.6 1392.2 932.8C1393.1 932.9 1395.7 928.3 1396.4 926.2C1397.4 923.4 1397.1 915.0 1397.7 911.8C1398.2 909.1 1399.5 902.4 1400.4 902.2C1401.1 902.1 1403.1 905.7 1403.9 907.0C1404.8 908.3 1406.5 912.6 1407.3 912.5C1408.4 912.4 1410.1 904.0 1411.3 902.2C1412.1 901.0 1413.8 899.0 1414.8 898.8C1415.7 898.6 1418.0 900.6 1418.8 900.2C1420.0 899.7 1421.4 892.6 1422.2 892.7C1423.2 892.8 1425.0 901.7 1425.7 905.0C1426.5 908.8 1427.2 917.1 1427.7 921.3C1428.2 925.6 1429.1 935.2 1429.7 939.0C1430.2 941.9 1431.1 949.2 1431.8 949.2C1432.6 949.2 1435.0 934.3 1435.9 934.3C1436.7 934.3 1438.0 941.7 1438.6 944.5C1439.3 947.9 1440.1 955.8 1440.6 959.5C1441.1 963.2 1441.9 974.4 1442.7 974.4C1443.6 974.4 1446.4 954.0 1447.5 954.0C1448.4 954.0 1450.2 963.0 1450.9 966.3C1451.6 970.1 1452.4 978.3 1452.9 982.6C1453.4 987.4 1454.4 998.9 1455.0 1003.0C1455.4 1005.9 1456.4 1012.6 1457.0 1012.6C1457.6 1012.6 1459.1 1005.9 1459.7 1003.0C1460.5 998.9 1461.8 987.4 1462.4 982.6C1463.0 978.3 1463.9 970.4 1464.5 966.3C1465.1 962.2 1465.9 952.5 1467.2 949.9C1468.0 948.4 1470.2 946.8 1471.3 945.8C1472.4 944.8 1475.3 943.3 1476.1 941.7C1477.4 939.1 1476.9 929.6 1477.4 925.4C1477.9 920.9 1478.6 907.9 1480.1 907.0C1480.8 906.6 1482.8 907.8 1483.6 908.4C1484.6 909.2 1486.2 913.1 1487.0 913.1C1487.9 913.1 1490.4 908.4 1490.4 908.4" stroke="#f43236" stroke-width="5.4" stroke-opacity="0.3"/>
<path d="M220.6 847.5C220.6 847.5 221.5 854.9 222.2 855.0C223.1 855.1 226.3 848.0 227.6 846.0C228.7 844.4 231.0 840.2 232.1 840.2C233.1 840.2 235.1 844.1 236.0 846.0C237.5 849.2 239.3 862.1 241.8 864.0C243.4 865.3 248.3 863.7 250.1 864.6C252.1 865.6 254.6 871.7 256.5 872.3C258.2 872.9 262.1 870.5 264.2 870.4C266.6 870.3 272.6 872.8 274.5 871.7C276.7 870.4 278.3 862.2 279.7 858.8C281.3 855.0 285.2 843.0 286.7 842.8C287.6 842.7 289.1 845.6 289.9 847.3C291.6 850.8 294.1 869.6 296.4 870.4C297.6 870.8 300.8 866.2 302.1 866.5C304.0 867.0 307.0 878.6 308.6 878.7C309.7 878.8 312.0 874.7 313.1 872.9C314.6 870.5 317.2 861.1 318.8 860.7C319.8 860.4 322.2 863.1 323.3 864.0C324.3 864.9 326.2 868.0 327.2 867.8C328.9 867.6 332.8 854.9 334.2 855.0C335.5 855.1 337.3 864.2 338.1 867.8C339.1 872.1 339.9 884.4 341.3 887.1C342.0 888.4 343.6 890.4 344.5 890.3C346.0 890.1 349.9 878.1 351.6 878.1C352.9 878.1 355.6 883.5 356.7 885.8C358.2 888.9 360.0 900.8 361.9 901.2C363.6 901.6 369.0 891.3 370.9 891.6C373.1 892.0 376.3 907.6 377.9 907.6C379.1 907.6 381.5 900.6 382.4 897.3C383.9 891.9 384.6 874.4 386.3 867.8C387.7 862.1 391.9 850.1 394.0 847.3C395.1 845.9 397.3 843.8 398.5 844.0C400.2 844.3 404.2 854.0 405.5 853.7C407.1 853.4 408.2 839.9 409.4 835.7C410.5 831.9 413.4 821.6 414.5 821.6C415.2 821.6 416.5 825.5 417.1 827.3C418.1 829.9 419.2 839.7 420.9 840.7C422.0 841.4 425.5 838.9 426.7 839.5C428.4 840.4 430.1 847.4 431.2 850.4C432.4 853.9 434.5 861.9 435.7 865.8C437.0 870.0 440.1 883.1 441.5 883.1C442.6 883.1 444.9 875.2 446.0 872.2C447.3 868.8 449.3 857.9 451.1 857.4C452.4 857.1 455.9 863.1 457.5 863.2C459.1 863.3 462.7 857.7 464.0 858.1C465.6 858.6 467.1 870.1 468.4 870.3C469.4 870.5 472.0 866.6 472.9 864.5C474.5 860.9 475.8 842.7 476.8 842.7C477.7 842.7 479.5 856.1 480.6 860.7C481.7 865.6 484.5 880.6 485.8 880.6C486.9 880.6 489.4 871.0 490.3 867.1C491.5 862.1 491.9 848.6 493.5 844.0C494.7 840.6 498.2 833.3 499.9 833.0C501.1 832.8 504.0 835.7 505.1 837.5C507.0 840.6 508.4 853.9 510.2 858.1C511.5 861.2 515.2 866.1 516.6 868.4C517.7 870.2 519.7 872.7 520.5 874.8C521.7 878.1 522.2 888.8 523.0 892.8C523.7 896.2 525.3 905.0 526.2 905.0C527.1 905.0 529.3 896.8 530.1 892.8C531.5 885.9 532.2 862.2 533.3 854.2C534.1 848.5 535.6 839.0 537.2 835.0C538.5 831.7 542.7 823.9 544.2 824.0C545.5 824.1 547.8 831.2 548.7 833.7C549.6 836.3 550.6 844.6 551.3 844.6C552.2 844.6 554.3 831.1 555.2 826.0C556.3 819.9 558.3 799.1 559.6 799.0C560.6 798.9 563.3 810.7 564.1 815.7C565.3 822.9 565.9 843.7 566.7 851.7C567.4 858.1 568.9 874.8 569.9 874.8C570.7 874.8 572.9 862.5 573.8 858.1C574.8 853.2 576.4 837.6 577.6 837.5C578.4 837.4 580.6 843.8 581.5 846.5C582.7 850.2 584.5 864.5 585.3 864.5C586.3 864.5 587.6 844.8 588.6 838.8C589.5 833.5 591.9 818.9 593.0 818.9C594.1 818.9 596.4 835.1 597.5 841.4C598.9 849.5 601.4 878.6 602.7 878.6C603.5 878.6 605.2 866.6 606.0 862.1C606.9 856.7 608.3 842.5 609.6 838.1C610.4 835.4 612.0 830.0 613.2 829.7C614.1 829.5 616.6 832.0 617.4 833.3C618.6 835.2 619.5 841.2 620.4 844.1C621.4 847.6 623.8 857.1 625.2 859.7C626.0 861.2 628.2 864.1 628.9 863.9C630.3 863.5 631.2 849.6 631.9 844.1C632.7 837.4 633.8 820.0 634.9 814.0C635.6 810.0 637.5 800.9 638.5 800.8C639.2 800.8 640.9 805.6 641.5 808.0C642.6 812.2 643.5 828.0 644.5 832.1C645.0 834.3 646.1 838.6 646.9 838.7C647.6 838.8 649.8 836.0 650.5 834.5C651.6 832.1 651.5 822.7 652.9 820.1C654.0 818.2 657.7 814.4 658.9 814.6C660.0 814.7 661.8 818.3 662.5 820.1C663.6 822.8 664.3 832.2 665.5 834.5C666.2 835.9 668.3 836.6 669.1 838.1C670.7 841.2 671.9 860.7 673.3 860.9C674.1 861.0 676.1 855.6 676.9 853.7C677.7 851.8 679.0 846.0 679.9 845.9C680.7 845.8 682.9 850.3 683.6 852.5C684.7 856.0 685.4 867.1 686.0 871.8C686.6 876.1 686.9 887.3 688.4 888.6C689.1 889.2 691.2 888.1 692.0 888.6C693.4 889.5 695.3 895.6 696.2 898.2C697.2 901.0 698.9 907.0 699.8 910.2C700.8 913.8 702.0 924.1 703.4 925.8C704.0 926.6 705.8 927.3 706.4 927.0C707.8 926.2 708.6 914.1 709.4 910.2C710.1 906.7 711.6 897.0 712.4 897.0C713.5 897.0 715.9 918.5 717.2 918.6C718.2 918.6 720.4 908.5 721.4 905.4C722.3 902.6 724.1 894.6 725.0 894.6C725.9 894.6 727.9 901.4 728.6 904.2C729.5 908.0 730.2 918.9 731.0 922.2C731.5 924.2 732.8 928.3 733.4 928.3C734.3 928.3 736.4 920.7 737.1 917.4C738.2 912.4 738.9 898.4 739.5 892.2C740.1 886.1 741.3 874.4 741.9 868.1C742.5 861.3 743.7 846.5 744.4 840.0C745.0 834.4 745.9 823.5 747.3 819.2C748.4 815.8 752.1 811.5 753.1 807.7C754.8 801.5 754.5 782.0 755.0 773.1C755.5 763.7 756.4 744.8 756.9 734.6C757.4 723.2 758.3 698.5 758.8 686.5C759.3 674.5 760.3 649.8 760.8 638.5C761.3 628.3 762.3 610.0 762.7 600.0C763.2 589.1 763.8 565.5 764.4 554.6C765.0 544.6 766.4 525.4 767.3 516.2C768.1 507.7 770.3 490.8 771.2 483.5C771.9 477.6 772.9 465.7 774.0 462.3C774.5 460.6 775.9 457.4 776.5 457.5C777.5 457.6 778.8 469.7 779.8 473.8C780.8 478.1 783.3 491.1 784.6 491.2C785.5 491.3 787.6 486.1 788.5 483.5C790.1 478.7 792.1 460.9 793.3 454.6C794.2 449.7 795.6 439.7 797.1 437.3C797.9 436.0 800.1 434.3 801.0 434.4C802.0 434.5 804.0 437.4 804.8 439.2C806.4 442.7 807.7 457.8 809.0 462.7C810.0 466.3 812.0 474.8 813.4 475.1C814.4 475.3 816.8 470.4 817.9 470.6C819.6 470.8 823.0 479.5 824.6 482.9C826.4 486.9 829.7 496.3 831.4 500.8C833.1 505.3 836.3 514.4 838.1 518.8C839.9 523.1 844.5 535.7 845.9 535.6C847.1 535.5 848.4 526.6 849.3 523.2C850.5 519.0 853.1 504.7 854.5 504.5C855.4 504.4 857.7 509.4 858.5 512.0C859.9 516.7 860.8 534.2 861.5 540.0C862.0 544.1 862.6 550.9 863.5 554.0C864.3 556.7 867.0 560.9 867.8 563.6C868.8 566.8 869.9 574.0 870.5 578.0C871.2 582.8 872.3 592.7 873.0 599.5C874.1 611.2 876.5 649.6 878.0 663.6C879.2 674.4 882.1 693.7 883.2 702.0C884.0 708.2 885.0 723.8 885.8 723.8C886.6 723.8 888.8 704.4 889.5 700.0C889.9 697.4 890.6 694.7 891.0 691.8C891.9 685.3 893.4 649.6 894.9 649.5C896.1 649.4 900.2 669.9 901.2 676.4C902.1 682.5 902.6 693.2 903.0 700.0C903.5 709.2 904.1 733.3 904.8 743.4C905.4 752.3 906.5 773.6 908.1 777.0C908.6 778.1 909.9 779.5 910.4 779.3C911.6 778.9 912.9 761.3 913.7 761.3C914.6 761.3 916.4 781.3 917.1 788.2C917.8 795.3 918.6 810.8 919.3 817.4C919.9 822.9 921.2 837.6 922.0 837.6C922.9 837.6 925.0 816.3 926.1 810.7C926.9 806.7 927.9 799.0 929.4 797.2C930.3 796.1 932.9 794.6 933.9 795.0C935.5 795.7 937.3 808.3 938.4 808.4C939.2 808.5 941.1 803.9 941.8 801.7C943.0 798.2 944.2 782.6 945.1 782.6C945.9 782.6 947.8 794.5 948.5 799.5C949.4 806.4 950.0 825.7 950.8 833.1C951.5 839.0 953.3 854.4 954.1 854.4C955.0 854.4 956.5 828.3 957.5 821.9C958.1 817.8 959.4 808.4 960.2 808.4C961.1 808.4 963.3 821.1 964.2 826.4C965.5 833.8 967.5 854.1 968.7 862.3C969.7 869.3 972.1 888.1 973.2 888.1C974.3 888.1 976.7 869.7 977.7 862.3C979.0 852.3 980.9 825.3 982.2 815.2C983.2 807.5 984.6 789.2 986.6 788.2C987.4 787.8 989.6 789.2 990.3 790.1C991.3 791.4 991.8 798.4 992.6 798.5C993.4 798.6 995.6 793.4 996.4 790.9C997.7 786.8 999.1 773.1 1000.2 768.1C1001.1 764.2 1002.7 756.7 1004.0 754.4C1004.8 753.0 1007.0 750.4 1007.8 750.6C1009.0 750.8 1010.8 757.3 1011.6 760.5C1013.0 766.0 1014.6 783.3 1015.5 790.9C1016.4 798.5 1017.8 815.3 1018.5 821.4C1019.0 825.5 1019.8 835.1 1020.3 835.1C1021.0 835.1 1022.4 813.8 1023.1 806.1C1023.9 797.2 1025.1 775.3 1026.1 768.1C1026.7 763.6 1028.1 753.7 1028.9 753.6C1029.5 753.6 1030.9 758.1 1031.4 760.5C1032.4 765.4 1033.2 782.9 1033.7 790.9C1034.3 799.9 1035.0 821.8 1036.0 829.0C1036.6 833.5 1038.1 843.3 1039.1 843.4C1040.0 843.5 1042.5 830.6 1043.6 830.5C1044.4 830.4 1046.1 834.5 1046.7 836.6C1047.8 840.4 1048.5 853.3 1049.0 859.4C1049.6 866.5 1050.7 883.4 1051.2 889.9C1051.6 894.7 1052.2 906.6 1052.8 906.6C1053.4 906.6 1055.1 894.5 1055.8 889.9C1056.6 884.4 1057.1 867.1 1058.9 865.5C1059.5 864.9 1061.3 865.0 1061.9 865.5C1063.2 866.6 1064.1 876.1 1064.9 879.2C1065.6 881.7 1067.1 888.3 1068.0 888.4C1068.5 888.5 1069.8 885.2 1070.3 885.3C1071.1 885.4 1072.6 892.0 1073.3 894.5C1074.1 897.4 1075.2 907.0 1076.4 907.4C1077.0 907.6 1078.8 906.2 1079.4 905.1C1081.0 902.4 1082.3 888.3 1083.2 882.3C1084.2 875.8 1085.9 860.3 1087.0 854.9C1087.7 851.4 1089.3 843.4 1090.1 843.4C1090.8 843.4 1092.3 850.9 1093.1 853.3C1093.9 855.6 1095.4 860.6 1096.2 862.5C1096.8 863.8 1097.9 865.6 1098.4 867.0C1099.2 869.3 1100.1 875.8 1100.7 879.2C1101.5 883.5 1102.4 898.6 1103.8 899.0C1104.4 899.2 1106.2 897.2 1106.8 896.0C1108.1 893.6 1109.2 882.9 1109.9 879.2C1110.5 876.2 1111.5 868.7 1112.2 868.6C1112.7 868.5 1113.8 871.8 1114.4 873.1C1115.1 874.6 1116.8 880.1 1117.5 880.0C1118.5 879.9 1119.8 868.5 1120.5 864.0C1121.4 858.1 1122.6 843.0 1123.6 836.6C1124.5 830.9 1126.6 815.6 1128.1 815.3C1129.0 815.1 1131.3 820.1 1132.0 821.4C1132.5 822.4 1132.9 823.7 1133.2 824.9C1133.9 827.8 1135.6 838.9 1136.4 844.1C1137.3 850.0 1138.7 869.7 1139.6 869.7C1140.3 869.7 1142.0 856.1 1142.8 852.1C1143.4 848.8 1144.4 840.2 1145.2 840.1C1145.9 840.0 1147.6 846.8 1148.4 848.9C1149.2 851.0 1150.9 857.0 1151.6 856.9C1152.6 856.8 1154.0 845.0 1154.8 840.9C1155.6 836.6 1156.6 823.7 1158.0 823.3C1158.8 823.1 1161.3 828.3 1162.1 828.1C1163.1 827.8 1163.8 820.2 1164.5 816.9C1165.4 812.3 1167.9 794.4 1168.8 794.4C1169.6 794.4 1171.1 806.8 1171.7 812.1C1172.6 820.1 1173.4 841.8 1174.1 852.1C1174.8 863.0 1176.5 897.0 1177.3 897.0C1178.1 897.0 1179.6 869.7 1180.5 860.1C1181.5 849.6 1183.9 816.1 1185.0 816.1C1185.9 816.1 1187.7 836.5 1188.5 844.1C1189.4 853.2 1191.0 873.9 1191.7 884.2C1192.5 895.1 1193.3 928.9 1194.6 929.0C1195.3 929.1 1197.4 920.3 1198.1 916.2C1199.3 909.0 1199.7 886.3 1200.5 876.2C1201.3 865.9 1203.2 834.5 1204.2 834.5C1204.8 834.5 1206.3 846.8 1206.9 852.1C1207.7 860.1 1208.6 881.5 1209.3 892.2C1210.1 904.5 1212.2 945.1 1213.3 945.1C1214.2 945.1 1216.3 917.6 1217.3 908.2C1218.3 898.4 1219.9 876.5 1221.3 868.1C1222.3 862.0 1225.1 847.3 1226.2 847.3C1227.3 847.3 1229.2 862.6 1230.2 868.1C1231.3 874.2 1232.1 890.6 1234.2 893.8C1235.2 895.3 1238.0 895.6 1239.0 897.0C1240.6 899.3 1242.1 908.4 1243.0 913.0C1244.2 918.9 1245.9 934.2 1247.0 940.3C1247.9 945.2 1250.0 957.9 1251.0 957.9C1252.0 957.9 1254.2 945.8 1255.0 940.3C1256.3 931.3 1257.1 904.5 1258.2 892.2C1259.3 879.3 1262.3 839.4 1263.8 839.3C1264.8 839.3 1267.0 854.0 1267.8 860.1C1268.9 868.5 1269.8 893.0 1271.0 900.2C1271.7 904.3 1273.1 910.8 1274.2 913.0C1274.9 914.4 1276.8 915.6 1277.4 917.0C1278.4 919.2 1279.3 926.2 1279.8 929.8C1280.5 934.3 1281.4 945.6 1282.2 950.2C1282.9 954.1 1284.9 964.6 1285.6 964.6C1286.6 964.5 1288.1 945.3 1288.8 938.2C1289.6 929.9 1291.0 910.7 1291.8 902.1C1292.5 894.3 1293.8 878.8 1294.8 872.1C1295.6 866.6 1298.0 852.2 1298.8 852.2C1299.6 852.2 1300.8 866.4 1301.4 872.1C1302.2 879.8 1303.6 900.6 1304.4 908.1C1305.0 913.4 1306.1 922.7 1306.9 926.2C1307.4 928.4 1308.5 933.3 1309.3 933.4C1310.1 933.5 1312.8 929.3 1313.5 927.4C1314.4 924.8 1313.9 916.7 1314.7 914.1C1315.3 912.2 1317.5 908.0 1318.3 908.1C1319.5 908.2 1321.8 917.8 1322.5 921.3C1323.3 925.2 1323.8 933.7 1324.3 938.2C1324.8 943.2 1325.8 959.1 1326.7 959.2C1327.3 959.3 1329.0 952.9 1329.7 950.2C1330.6 946.5 1332.0 936.5 1332.7 932.2C1333.3 928.4 1334.4 921.2 1335.1 917.7C1335.8 914.4 1337.0 905.3 1338.1 905.1C1338.9 905.0 1341.3 910.0 1342.3 911.7C1343.4 913.5 1345.7 919.7 1346.5 919.5C1347.8 919.3 1348.3 902.1 1349.5 897.3C1350.5 893.5 1353.6 884.0 1354.6 884.1C1355.7 884.2 1356.9 894.8 1357.9 898.5C1358.9 902.6 1361.7 915.4 1362.7 915.3C1363.9 915.2 1364.6 893.8 1366.3 890.1C1367.2 888.2 1369.6 885.2 1370.6 885.3C1371.7 885.4 1374.0 890.5 1374.8 892.5C1375.7 894.7 1376.0 901.2 1377.2 902.1C1377.9 902.6 1380.0 901.6 1380.8 902.1C1382.0 902.8 1383.4 909.0 1384.4 909.3C1385.0 909.5 1386.3 907.9 1386.8 908.1C1387.9 908.7 1388.5 918.1 1389.2 921.3C1389.9 924.3 1391.1 932.6 1392.2 932.8C1393.1 932.9 1395.7 928.3 1396.4 926.2C1397.4 923.4 1397.1 915.0 1397.7 911.8C1398.2 909.1 1399.5 902.4 1400.4 902.2C1401.1 902.1 1403.1 905.7 1403.9 907.0C1404.8 908.3 1406.5 912.6 1407.3 912.5C1408.4 912.4 1410.1 904.0 1411.3 902.2C1412.1 901.0 1413.8 899.0 1414.8 898.8C1415.7 898.6 1418.0 900.6 1418.8 900.2C1420.0 899.7 1421.4 892.6 1422.2 892.7C1423.2 892.8 1425.0 901.7 1425.7 905.0C1426.5 908.8 1427.2 917.1 1427.7 921.3C1428.2 925.6 1429.1 935.2 1429.7 939.0C1430.2 941.9 1431.1 949.2 1431.8 949.2C1432.6 949.2 1435.0 934.3 1435.9 934.3C1436.7 934.3 1438.0 941.7 1438.6 944.5C1439.3 947.9 1440.1 955.8 1440.6 959.5C1441.1 963.2 1441.9 974.4 1442.7 974.4C1443.6 974.4 1446.4 954.0 1447.5 954.0C1448.4 954.0 1450.2 963.0 1450.9 966.3C1451.6 970.1 1452.4 978.3 1452.9 982.6C1453.4 987.4 1454.4 998.9 1455.0 1003.0C1455.4 1005.9 1456.4 1012.6 1457.0 1012.6C1457.6 1012.6 1459.1 1005.9 1459.7 1003.0C1460.5 998.9 1461.8 987.4 1462.4 982.6C1463.0 978.3 1463.9 970.4 1464.5 966.3C1465.1 962.2 1465.9 952.5 1467.2 949.9C1468.0 948.4 1470.2 946.8 1471.3 945.8C1472.4 944.8 1475.3 943.3 1476.1 941.7C1477.4 939.1 1476.9 929.6 1477.4 925.4C1477.9 920.9 1478.6 907.9 1480.1 907.0C1480.8 906.6 1482.8 907.8 1483.6 908.4C1484.6 909.2 1486.2 913.1 1487.0 913.1C1487.9 913.1 1490.4 908.4 1490.4 908.4" stroke="#f43236" stroke-width="3.3"/>
</g>
<g stroke-linecap="butt">
<line x1="935" y1="227" x2="1089" y2="227" stroke="#0000ff" stroke-width="4.4"/>
<line x1="935" y1="310" x2="1089" y2="310" stroke="#f43236" stroke-width="3.5"/>
</g>
<g>
<text x="197.50" y="0" font-size="52" text-anchor="end" transform="translate(0 52.50) scale(1 1.012)">0</text>
<text x="196.30" y="0" font-size="52" text-anchor="end" transform="translate(0 257.20) scale(1 1.012)">-<tspan dx="0.0">5</tspan></text>
<text x="197.60" y="0" font-size="52" text-anchor="end" transform="translate(0 461.90) scale(1 1.012)">-<tspan dx="2.4">10</tspan></text>
<text x="196.30" y="0" font-size="52" text-anchor="end" transform="translate(0 666.60) scale(1 1.012)">-<tspan dx="2.4">15</tspan></text>
<text x="197.60" y="0" font-size="52" text-anchor="end" transform="translate(0 871.30) scale(1 1.012)">-<tspan dx="2.4">20</tspan></text>
<text x="196.30" y="0" font-size="52" text-anchor="end" transform="translate(0 1076.00) scale(1 1.012)">-<tspan dx="2.4">25</tspan></text>
<text x="220.30" y="0" font-size="52" text-anchor="middle" transform="translate(0 1122.50) scale(1 1.012)">1070</text>
<text x="537.98" y="0" font-size="52" text-anchor="middle" transform="translate(0 1122.50) scale(1 1.012)">1075</text>
<text x="855.65" y="0" font-size="52" text-anchor="middle" transform="translate(0 1122.50) scale(1 1.012)">1080</text>
<text x="1173.33" y="0" font-size="52" text-anchor="middle" transform="translate(0 1122.50) scale(1 1.012)">1085</text>
<text x="1491.00" y="0" font-size="52" text-anchor="middle" transform="translate(0 1122.50) scale(1 1.012)">1090</text>
<text x="637.00" y="0" font-size="63.5" text-anchor="start" transform="translate(0 1218.50) scale(1 1.012)">Wavelength (nm)</text>
<text x="0" y="0" font-size="63.3" transform="translate(66 759) rotate(-90) scale(1 1.012)">Transmission (dB)</text>
<text x="1105.30" y="0" font-size="67.7" text-anchor="start" transform="translate(0 249.50) scale(1 1.012)">Transmission</text>
<text x="1104.80" y="0" font-size="67.7" text-anchor="start" transform="translate(0 332.80) scale(1 1.012)">Reflection</text>
<text x="1035.00" y="0" font-size="58" text-anchor="start" transform="translate(0 536.50) scale(1 1.012)">3&#8722;dB BW=1.6nm</text>
<text x="1036.50" y="0" font-size="58" text-anchor="start" transform="translate(0 608.00) scale(1 1.012)">R&gt;98%</text>
<text x="1035.50" y="0" font-size="58" text-anchor="start" transform="translate(0 679.50) scale(1 1.012)">CW=1079.2nm</text>
</g>
</svg>
</body></html>
